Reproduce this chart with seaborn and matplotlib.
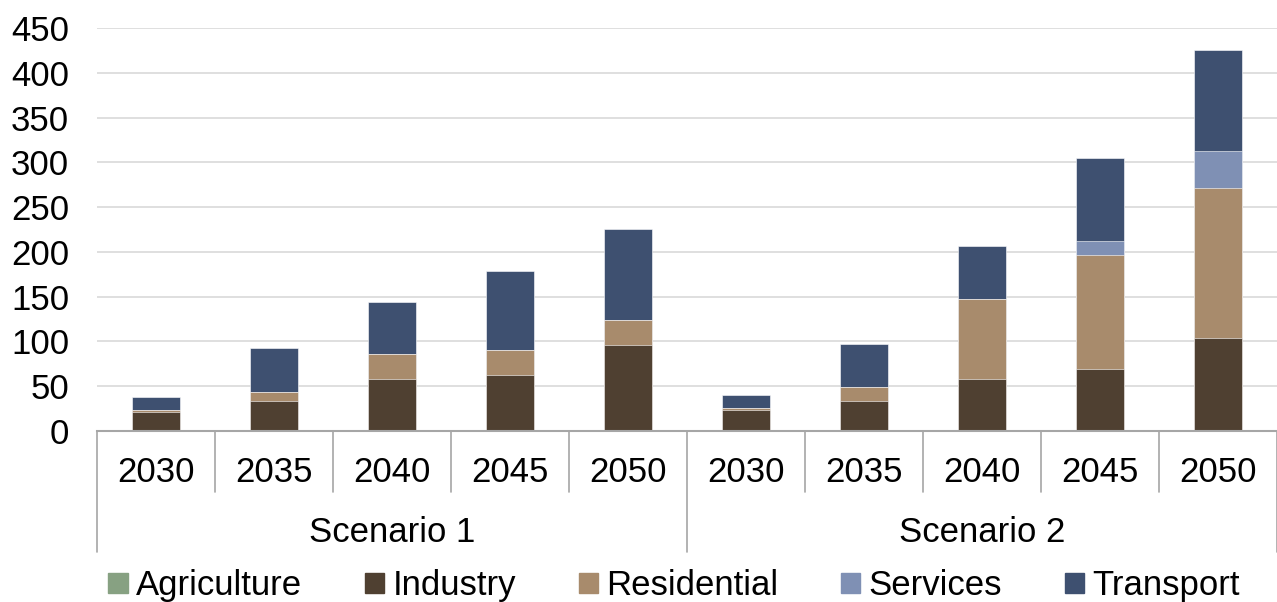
import numpy as np
import pandas as pd
import matplotlib
matplotlib.use('Agg')
import matplotlib.pyplot as plt
import matplotlib.patches as mpatches
import seaborn as sns

# data
scenarios = ['Scenario 1', 'Scenario 2']
years = ['2030', '2035', '2040', '2045', '2050']
sectors = ['Agriculture', 'Industry', 'Residential', 'Services', 'Transport']
agriculture = [1, 1, 1, 1, 1, 1, 1, 1, 1, 1]
industry = [20, 32, 57, 61, 95, 22, 32, 57, 68, 103]
residential = [2, 11, 28, 28, 28, 3, 16, 89, 127, 167]
services = [0, 0, 0, 0, 0, 0, 0, 0, 16, 42]
transport = [15, 49, 58, 89, 102, 14, 48, 60, 93, 112]
colors = ['#87a182', '#4f4031', '#a88b6c', '#7f90b4', '#3e5070']

sns.set_theme(style='white')
plt.rcParams['font.family'] = ['Liberation Sans', 'DejaVu Sans']
plt.rcParams['text.color'] = 'black'
plt.rcParams['ytick.color'] = 'black'

labels = [f'{s}|{y}' for s in scenarios for y in years]
df = pd.DataFrame({'cat': labels, 'Agriculture': agriculture, 'Industry': industry,
                   'Residential': residential, 'Services': services, 'Transport': transport})
cum = df[sectors].cumsum(axis=1)
cum['cat'] = df['cat']

fig = plt.figure(figsize=(12.77, 6.02), dpi=100)
ax = fig.add_axes([97 / 1277, 1 - 431 / 602, 1 - 97 / 1277, 403 / 602])

# stacked bars drawn as overlapping cumulative totals, top layer first
for sec, col in reversed(list(zip(sectors, colors))):
    sns.barplot(data=cum, x='cat', y=sec, color=col, width=0.4, order=labels,
                saturation=1, ax=ax, edgecolor='white', linewidth=0.4)

ax.set_ylim(0, 450)
ax.set_xlim(-0.5, 9.5)
ax.set_yticks(np.arange(0, 451, 50))
ax.yaxis.grid(True, color='#d9d9d9', linewidth=1.2)
ax.set_axisbelow(True)
ax.tick_params(axis='y', labelsize=25, labelcolor='black', length=0, pad=20)
ax.set_xticks([])
ax.set_xlabel('')
ax.set_ylabel('')
for side in ['left', 'right', 'top']:
    ax.spines[side].set_visible(False)
ax.spines['bottom'].set_color('#a6a6a6')
ax.spines['bottom'].set_linewidth(1.5)

# two-level category axis
trans = ax.get_xaxis_transform()
for i, lab in enumerate(labels):
    ax.text(i, -0.102, lab.split('|')[1], transform=trans, ha='center', va='center',
            fontsize=25, color='black')
for k in range(11):
    bottom = -0.30 if k % 5 == 0 else -0.151
    ax.plot([k - 0.5, k - 0.5], [0, bottom], transform=trans, color='#a6a6a6',
            linewidth=1.2, clip_on=False)
for j, s in enumerate(scenarios):
    ax.text(j * 5 + 2, -0.253, s, transform=trans, ha='center', va='center',
            fontsize=25, color='black')

handles = [mpatches.Patch(color=c, label=s) for s, c in zip(sectors, colors)]
fig.legend(handles=handles, loc='center', bbox_to_anchor=(0.528, 0.027), ncol=5,
           frameon=False, fontsize=25, handlelength=0.55, handleheight=0.55,
           handletextpad=0.25, columnspacing=1.8, borderaxespad=0)

fig.savefig('out.png', dpi=100)
